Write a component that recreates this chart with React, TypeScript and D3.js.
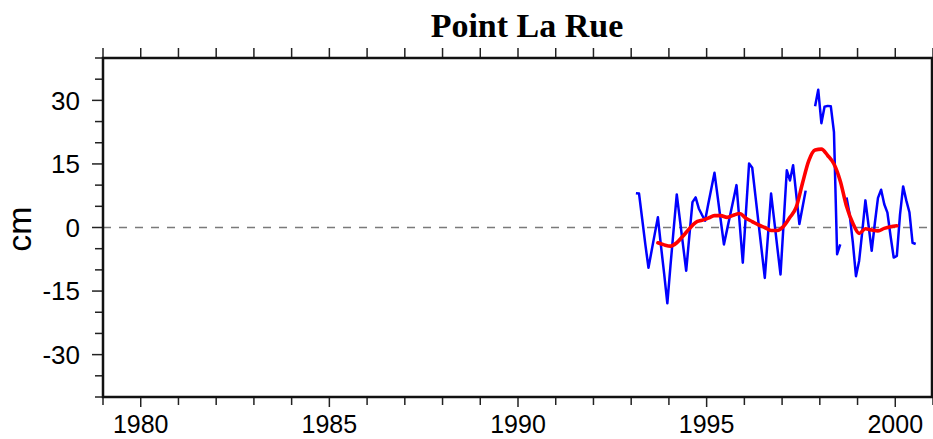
import * as d3 from 'd3'

// monthly sea level anomaly (cm), first value is mid Feb 1993, null = no data
const BLUE_START = 1993 + 1.5 / 12
const blueValues: (number | null)[] = [
  8.1, 8.0, 2.0, -4.0, -9.5, -5.5, -1.5, 2.4, -4.5, -11.0,
  -17.9, -9.0, -0.5, 7.8, 1.8, -4.2, -10.2, -2.0, 6.0, 7.1,
  4.5, 3.0, 1.6, 5.5, 9.2, 12.9, 7.3, 1.6, -4.0, -0.5,
  3.0, 6.5, 10.0, 1.0, -8.3, 3.5, 15.1, 14.1, 7.6, 1.1,
  -5.4, -11.9, -2.0, 8.0, 1.6, -4.8, -11.1, 1.2, 13.5, 11.1,
  14.7, 7.8, 0.8, 4.8, 8.7, null, null, 28.6, 32.5, 24.6,
  28.5, 28.7, 28.6, 22.5, -6.3, -4.0, null, 7.1, 3.0, -3.5,
  -11.5, -7.9, -1.0, 6.4, 0.5, -5.5, 1.0, 7.0, 8.9, 5.5,
  3.5, -2.0, -7.1, -6.7, 3.0, 9.7, 6.4, 3.6, -3.6, -3.9
]

// smoothed curve, one value every 2 months
const RED_START = BLUE_START + 7 / 12
const redValues = [
  -3.6, -4.1, -4.4, -3.6, -2.0, -0.3, 1.2, 1.7, 2.2, 2.8,
  2.8, 2.4, 2.9, 3.3, 2.2, 1.4, 0.6, 0.0, -0.7, -0.7,
  0.3, 2.4, 4.8, 10.5, 15.8, 18.3, 18.5, 17.0, 15.0, 11.0,
  5.0, 1.0, -1.4, -0.3, -0.6, -0.8, -0.2, 0.2, 0.4
]

const xTickLabels = [1980, 1985, 1990, 1995, 2000]
const yTickLabels = [-30, -15, 0, 15, 30]

const W = 933
const H = 439
const plot = { left: 103, right: 933, top: 58, bottom: 397 }

export default function App() {
  const x = d3.scaleLinear().domain([1979, 2001]).range([plot.left, plot.right])
  const y = d3.scaleLinear().domain([-40, 40]).range([plot.bottom, plot.top])

  const blue = blueValues.map((v, i) => ({ t: BLUE_START + i / 12, v }))
  const red = redValues.map((v, i) => ({ t: RED_START + (i * 2) / 12, v }))

  const blueLine = d3.line<{ t: number; v: number | null }>()
    .defined(d => d.v !== null)
    .x(d => x(d.t))
    .y(d => y(d.v as number))

  const redLine = d3.line<{ t: number; v: number }>()
    .x(d => x(d.t))
    .y(d => y(d.v))
    .curve(d3.curveMonotoneX)

  const yearTicks = d3.range(1979, 2002)
  const cmTicks = d3.range(-40, 41, 5)
  const sans = '"Liberation Sans", Arial, Helvetica, sans-serif'

  return (
    <svg width={W} height={H} style={{ position: 'absolute', left: 0, top: 0, background: '#fff' }}>
      <text x={527} y={37} textAnchor="middle" fontFamily='"Liberation Serif", "Times New Roman", serif'
        fontWeight="bold" fontSize={34} fill="#000">
        Point La Rue
      </text>

      {/* zero line */}
      <line x1={plot.left} x2={plot.right} y1={y(0)} y2={y(0)}
        stroke="#7a7a7a" strokeWidth={1.5} strokeDasharray="8,8" />

      {/* series */}
      <path d={blueLine(blue) || ''} fill="none" stroke="#0000ff" strokeWidth={2.5} strokeLinejoin="round" />
      <path d={redLine(red) || ''} fill="none" stroke="#ff0000" strokeWidth={3.6} strokeLinecap="round" />

      {/* x ticks, top and bottom */}
      {yearTicks.map(yr => {
        const major = xTickLabels.includes(yr)
        return (
          <g key={yr} stroke="#222" strokeWidth={1.5}>
            <line x1={x(yr)} x2={x(yr)} y1={plot.bottom} y2={plot.bottom + (major ? 10 : 8)} />
            <line x1={x(yr)} x2={x(yr)} y1={plot.top} y2={plot.top - 10} />
          </g>
        )
      })}
      {xTickLabels.map(yr => (
        <text key={yr} x={x(yr)} y={433} textAnchor="middle" fontFamily={sans} fontSize={25} fill="#000">
          {yr}
        </text>
      ))}

      {/* y ticks */}
      {cmTicks.map(v => {
        const major = yTickLabels.includes(v)
        return (
          <line key={v} x1={plot.left - (major ? 11 : 8)} x2={plot.left} y1={y(v)} y2={y(v)}
            stroke="#222" strokeWidth={1.5} />
        )
      })}
      {yTickLabels.map(v => (
        <text key={v} x={80} y={y(v)} dy="0.36em" textAnchor="end" fontFamily={sans} fontSize={26} fill="#000">
          {String(v)}
        </text>
      ))}

      <text transform={`translate(31, 229) rotate(-90)`} textAnchor="middle" fontFamily={sans}
        fontSize={34} fill="#000">
        cm
      </text>

      {/* frame */}
      <rect x={plot.left} y={plot.top} width={plot.right - 1 - plot.left} height={plot.bottom - plot.top}
        fill="none" stroke="#111" strokeWidth={2.5} />
    </svg>
  )
}
